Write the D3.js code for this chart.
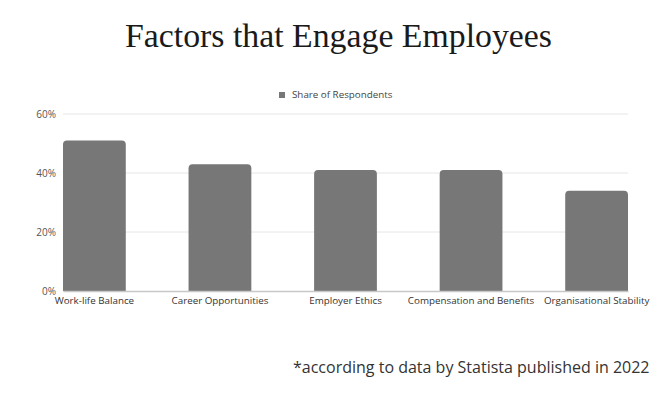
<!DOCTYPE html>
<html><head><meta charset="utf-8">
<script src="https://cdn.jsdelivr.net/npm/d3@7"></script>
<style>body{margin:0;background:#fff}svg{display:block}</style>
</head><body><svg id="c" width="669" height="395"></svg>
<script>
const categories = ["Work-life Balance","Career Opportunities","Employer Ethics","Compensation and Benefits","Organisational Stability"];
const shareOfRespondents = [51, 43, 41, 41, 34];
const yTicks = [0, 20, 40, 60];
const seriesName = "Share of Respondents";
const titleText = "Factors that Engage Employees";
const noteText = "*according to data by Statista published in 2022";

const svg = d3.select("#c");
const m = {l:63, r:41, t:114, b:104};
const W = 669, H = 395;
const x = d3.scaleBand().domain(categories).range([m.l, W-m.r]).paddingInner(0.5).paddingOuter(0).align(0);
const y = d3.scaleLinear().domain([0,60]).range([H-m.b, m.t]);

svg.append("text").attr("x",338.5).attr("y",47).attr("text-anchor","middle")
  .attr("font-family","Liberation Serif, serif").attr("font-size",34).attr("fill","#1a1a1a")
  .attr("textLength",427).attr("lengthAdjust","spacingAndGlyphs").text(titleText);

// grid
svg.append("g").selectAll("line").data(yTicks.filter(d=>d>0)).join("line")
  .attr("x1",m.l).attr("x2",W-m.r).attr("y1",d=>y(d)).attr("y2",d=>y(d))
  .attr("stroke","#e6e6e6").attr("stroke-width",1);

const yAxis = d3.axisLeft(y).tickValues(yTicks).tickFormat(d=>d+"%").tickSize(0).tickPadding(7);
const ga = svg.append("g").attr("transform",`translate(${m.l},0)`).call(yAxis);
ga.select(".domain").remove();
ga.selectAll("text").attr("font-family","Open Sans, sans-serif").attr("font-size",10).attr("fill","#555");

// bars with rounded top
const r = 4;
svg.append("g").selectAll("path").data(categories).join("path")
  .attr("d",(c,i)=>{
    const x0 = x(c), w = x.bandwidth(), y0 = y(0), y1 = y(shareOfRespondents[i]);
    return `M${x0},${y0}V${y1+r}Q${x0},${y1} ${x0+r},${y1}H${x0+w-r}Q${x0+w},${y1} ${x0+w},${y1+r}V${y0}Z`;
  })
  .attr("fill","#777777");

// baseline axis
const xAxis = d3.axisBottom(x).tickSize(0).tickPadding(6);
const gx = svg.append("g").attr("transform",`translate(0,${y(0)})`).call(xAxis);
gx.select(".domain").attr("stroke","#c8c8c8").attr("stroke-width",1.5);
gx.selectAll("text").attr("font-family","Open Sans, sans-serif").attr("font-size",9.8).attr("fill","#333");

// legend
svg.append("rect").attr("x",279).attr("y",92).attr("width",6).attr("height",6).attr("fill","#777");
svg.append("text").attr("x",292).attr("y",98).attr("font-family","Open Sans, sans-serif").attr("font-size",9.8).attr("fill","#444").text(seriesName);

svg.append("text").attr("x",293).attr("y",373).attr("font-family","Open Sans, sans-serif").attr("font-size",16).attr("fill","#333").text(noteText);
</script></body></html>
